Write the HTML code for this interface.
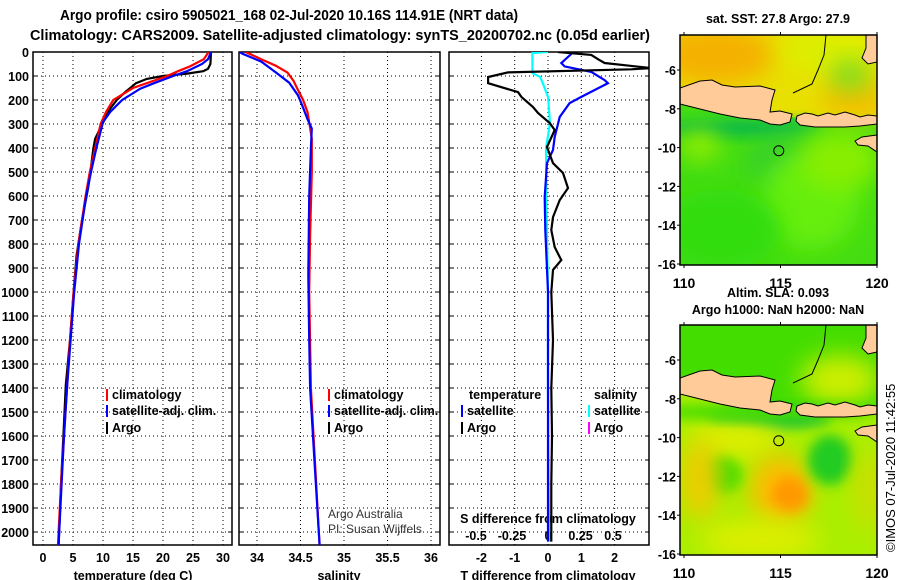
<!DOCTYPE html>
<html><head><meta charset="utf-8"><style>
body{margin:0;background:#fff;}
svg{display:block;font-family:"Liberation Sans",sans-serif;}
.b{font-weight:bold;font-size:14px;}
.h{font-weight:bold;font-size:14.5px;}
.t{font-weight:bold;font-size:12.5px;}
</style></head><body>
<svg id="s" width="900" height="580" viewBox="0 0 900 580">
<defs>
<clipPath id="c1"><rect x="33" y="52" width="199" height="493"/></clipPath>
<clipPath id="c2"><rect x="239" y="52" width="201" height="493"/></clipPath>
<clipPath id="c3"><rect x="449" y="52" width="200" height="493"/></clipPath>
<clipPath id="m1"><rect x="680" y="35" width="197" height="230"/></clipPath>
<clipPath id="m2"><rect x="680" y="325" width="197" height="230"/></clipPath>
<filter id="bl" x="-50%" y="-50%" width="200%" height="200%"><feGaussianBlur stdDeviation="12"/></filter>
<filter id="bl2" x="-50%" y="-50%" width="200%" height="200%"><feGaussianBlur stdDeviation="6"/></filter>
</defs>
<text x="289" y="20" text-anchor="middle" class="h" textLength="458" lengthAdjust="spacingAndGlyphs">Argo profile: csiro 5905021_168 02-Jul-2020 10.16S 114.91E (NRT data)</text>
<text x="340" y="40" text-anchor="middle" class="h" textLength="620" lengthAdjust="spacingAndGlyphs">Climatology: CARS2009. Satellite-adjusted climatology: synTS_20200702.nc (0.05d earlier)</text>
<g id="plots"></g>
<g id="maps"></g>
</svg>
<script>
// ---- data ----
const tArgoD=[0,50,70,80,90,100,112,130,167,200,236,300,361,400,500,569,700,847,1000,1200,1388,1600,1800,2000,2054];
const tArgoV=[28,27.9,27.5,26.7,24,20,17.3,15.5,13.7,12.3,11.2,9.9,8.7,8.4,7.9,7.5,6.5,5.6,5.1,4.5,3.8,3.4,3.0,2.7,2.6];
const tClimD=[0,30,60,80,100,150,200,250,300,400,500,600,800,1000,1200,1400,1600,1800,2000,2054];
const tClimV=[27.6,26.8,24.5,22.5,20.7,15,11.7,10.5,9.6,8.7,7.8,7.1,5.9,5.1,4.5,4.0,3.5,3.0,2.6,2.5];
const tSatD=[0,30,50,80,100,130,153,200,222,250,292,400,500,600,800,1000,1200,1400,1600,1800,2000,2054];
const tSatV=[28,27.5,26.5,24,21.7,18.5,16.2,13.2,12.3,11.2,10,8.9,8.0,7.2,6.0,5.2,4.6,4.0,3.5,3.1,2.7,2.6];
const sClimD=[0,30,58,86,120,150,200,250,292,361,500,764,1000,1400,1800,2000,2054];
const sClimV=[33.87,34.05,34.22,34.35,34.42,34.46,34.53,34.58,34.6,34.63,34.63,34.61,34.6,34.62,34.68,34.71,34.72];
const sSatD=[0,7,40,86,128,180,222,280,319,400,600,931,1200,1400,1700,2000,2054];
const sSatV=[33.8,33.83,34.05,34.22,34.37,34.47,34.52,34.58,34.63,34.62,34.6,34.59,34.6,34.61,34.66,34.71,34.72];
const dTArgoD=[0,12,30,46,67,72,85,104,130,167,187,229,254,296,325,396,463,504,567,617,688,742,813,867,908,1000,1200,1400,1600,1800,2000,2040];
const dTArgoV=[0.3,1.3,1.5,1.7,3.1,2.5,-1.2,-1.8,-1.8,-0.9,-0.8,-0.45,-0.3,0.05,0.2,-0.03,0.15,0.45,0.6,0.35,0.15,0.1,0.2,0.4,0.15,0.1,0.15,0.1,0.12,0.1,0.1,0.1];
const dTSatD=[0,8,46,60,83,117,130,187,213,271,354,408,463,604,742,1000,1400,1800,2040];
const dTSatV=[0.7,0.7,0.4,0.5,1.3,1.7,1.8,1.0,0.65,0.35,0.2,0.15,-0.03,-0.1,-0.08,0,0,0,0];
const dSSatD=[0,4,46,88,104,130,187,296,350,400,700,1000,1400,1800,2040];
const dSSatV=[0,-0.12,-0.12,-0.12,-0.06,-0.04,0,0.015,0,-0.015,-0.01,0,0,0.005,0.01];
const depthTicks=[0,100,200,300,400,500,600,700,800,900,1000,1100,1200,1300,1400,1500,1600,1700,1800,1900,2000];
const tTicks=[0,5,10,15,20,25,30];
const sTicks=[34,34.5,35,35.5,36];
const dTicks=[-2,-1,0,1,2];
const dsTicks=[-0.5,-0.25,0,0.25,0.5];
const dsTickLabels=["-0.5","-0.25","0","0.25","0.5"];
const latTicks=[-6,-8,-10,-12,-14,-16];
const lonTicks=[110,115,120];
// ---- scales ----
const yD=d=>52+0.24*d;
const xT=v=>43+6*v;
const xS=v=>257+87*(v-34);
const xD=v=>548+33.3*v;
const xSD=v=>548+130*v;
const NS="http://www.w3.org/2000/svg";
const P=document.getElementById('plots');
function mk(tag,at,par){const e=document.createElementNS(NS,tag);for(const k in at)e.setAttribute(k,at[k]);(par||P).appendChild(e);return e;}
function txt(x,y,s,at,par){const e=mk('text',Object.assign({x:x,y:y},at||{}),par);e.textContent=s;return e;}
const panels=[{x0:33,x1:232,clip:'c1',name:'temperature-panel'},{x0:239,x1:440,clip:'c2',name:'salinity-panel'},{x0:449,x1:649,clip:'c3',name:'difference-panel'}];
panels.forEach((p,i)=>{
  const g=mk('g',{});
  
  
  depthTicks.forEach(d=>{if(d===0)return;const y=yD(d);
    const l=mk('line',{x1:p.x0,x2:p.x1,y1:y,y2:y,stroke:'#000','stroke-width':1,'stroke-dasharray':'1,3'},g);
    
    mk('line',{x1:p.x0,x2:p.x0+4,y1:y,y2:y,stroke:'#000'},g);mk('line',{x1:p.x1-4,x2:p.x1,y1:y,y2:y,stroke:'#000'},g);});
  let vt=i===0?tTicks.map(xT):i===1?sTicks.map(xS):dTicks.map(xD);
  vt.forEach(x=>{const l=mk('line',{x1:x,x2:x,y1:52,y2:545,stroke:'#000','stroke-dasharray':'1,3'},g);
    });
  const r=mk('rect',{x:p.x0,y:52,width:p.x1-p.x0,height:493,fill:'none',stroke:'#000','stroke-width':1.5},g);
  
});
depthTicks.forEach(d=>{const t=txt(29,yD(d)+5,String(d),{'text-anchor':'end',class:'t'});
  });
function ticklab(arr,f){arr.forEach(v=>{const t=txt(f(v),562,String(v),{'text-anchor':'middle',class:'t'});
  });}
ticklab(tTicks,xT);ticklab(sTicks,xS);ticklab(dTicks,xD);
dsTicks.forEach((v,i)=>{const t=txt(xSD(v)-(v<0?7*Math.abs(v)/0.5:0),540,dsTickLabels[i],{'text-anchor':'middle',class:'t'});
  });
[[133,'temperature (deg C)','x-axis-title-temperature'],[339,'salinity','x-axis-title-salinity'],[548,'T difference from climatology','x-axis-title-t-diff']].forEach(a=>{
  const t=txt(a[0],580,a[1],{'text-anchor':'middle',class:'t'});});
const st=txt(548,523,'S difference from climatology',{'text-anchor':'middle',class:'t'});

function line(D,V,f,col,clip,name){const pts=D.map((d,i)=>f(V[i]).toFixed(1)+','+yD(d).toFixed(1)).join(' ');
  const e=mk('polyline',{points:pts,fill:'none',stroke:col,'stroke-width':2.2,'clip-path':'url(#'+clip+')'});
  }
line(tArgoD,tArgoV,xT,'#000','c1','argo-temperature-line');
line(tClimD,tClimV,xT,'#f00','c1','clim-temperature-line');
line(tSatD,tSatV,xT,'#00f','c1','sat-temperature-line');
line(sClimD,sClimV,xS,'#f00','c2','clim-salinity-line');
line(sSatD,sSatV,xS,'#00f','c2','sat-salinity-line');
line(dSSatD,dSSatV,xSD,'#0ff','c3','sat-salinity-diff-line');
line(dTSatD,dTSatV,xD,'#00f','c3','sat-temperature-diff-line');
line(dTArgoD,dTArgoV,xD,'#000','c3','argo-temperature-diff-line');
function leg(x,y,col,label,name){const r=mk('rect',{x:x,y:y-10,width:2,height:12,fill:col});
  const t=txt(x+6,y,label,{class:'t'});
  }
leg(106,399,'#f00','climatology','legend-climatology');
leg(106,415,'#00f','satellite-adj. clim.','legend-satellite-adj');
leg(106,432,'#000','Argo','legend-argo');
leg(328,399,'#f00','climatology','legend2-climatology');
leg(328,415,'#00f','satellite-adj. clim.','legend2-satellite-adj');
leg(328,432,'#000','Argo','legend2-argo');
let h=txt(469,399,'temperature',{class:'t'});
h=txt(594,399,'salinity',{class:'t'});
leg(461,415,'#00f','satellite','legend-t-satellite');
leg(461,432,'#000','Argo','legend-t-argo');
leg(588,415,'#0ff','satellite','legend-s-satellite');
leg(588,432,'#f0f','Argo','legend-s-argo');
h=txt(328,518,'Argo Australia',{'font-size':'12px',fill:'#333'});
h=txt(328,533,'PI: Susan Wijffels',{'font-size':'12px',fill:'#333'});

// ---- maps ----
const M=document.getElementById('maps');
const lonX=l=>684+19.3*(l-110);
function latY(top){return l=>top+19.4*(-6-l);}
const java=[[680,88],[700,81],[712,80],[722,85],[735,87],[760,86],[775,90],[772,100],[770,112],[780,111],[792,114],[790,122],[780,125],[770,124],[760,120],[740,118],[720,114],[700,109],[680,104]];
const lesser=[[797,116],[805,113],[812,114],[818,116],[828,113],[835,115],[845,112],[855,115],[860,117],[868,115],[877,116],[877,124],[860,126],[845,127],[830,127],[815,127],[800,125],[796,121]];
const sumba=[[855,141],[862,137],[877,135],[877,152],[868,146],[858,145]];
const borneo=[[866,35],[877,35],[877,62],[868,64],[862,58],[866,48]];
const northPoly=[[670,25],[890,25],[890,118],[800,118],[780,116],[760,112],[720,106],[680,98],[670,98]];
function map(top,clip,bg,north,blobs,name,title,titleY){
  const g=mk('g',{},M);
  const off=top-35;
  const inner=mk('g',{'clip-path':'url(#'+clip+')'},g);
  mk('rect',{x:680,y:top,width:197,height:230,fill:bg},inner);
  mk('polygon',{points:northPoly.map(p=>p[0]+','+(p[1]+off)).join(' '),fill:north},inner);
  blobs.forEach(b=>mk('ellipse',{cx:b[0],cy:b[1]+off,rx:b[2],ry:b[3],fill:b[4],filter:'url(#'+(b[5]||'bl')+')'},inner));
  [java,lesser,sumba,borneo].forEach(poly=>{const e=mk('polygon',{points:poly.map(p=>p[0]+','+(p[1]+off)).join(' '),fill:'#ffcc99',stroke:'#000','stroke-width':1},inner);
    });
  mk('polyline',{points:[[826,35],[824,55],[818,70],[812,84],[793,93]].map(p=>p[0]+','+(p[1]+off)).join(' '),fill:'none',stroke:'#000','stroke-width':1},inner);
  const c=mk('circle',{cx:lonX(114.91),cy:latY(top+35)(-10.16),r:5,fill:'none',stroke:'#000','stroke-width':1});
  g.appendChild(c);
  mk('rect',{x:680,y:top,width:197,height:230,fill:'none',stroke:'#000','stroke-width':1.5},g);
  const ly=latY(top+35);
  latTicks.forEach(l=>{const y=ly(l);mk('line',{x1:677,x2:680,y1:y,y2:y,stroke:'#000'},g);
    const t=txt(676,y+5,String(l),{'text-anchor':'end',class:'t'},g);});
  lonTicks.forEach(l=>{const x=lonX(l);mk('line',{x1:x,x2:x,y1:top+230,y2:top+233,stroke:'#000'},g);mk('line',{x1:x,x2:x,y1:top-3,y2:top,stroke:'#000'},g);
    const t=txt(x,top+253,String(l),{'text-anchor':'middle',class:'b'},g);});
  title.forEach((s,i)=>{const t=txt(778,titleY[i],s,{'text-anchor':'middle',class:'t'},g);});
}
map(35,'m1','#44dd11','#e8e000',[[715,55,60,30,'#f5b000'],[830,50,50,25,'#ddee00'],[855,100,35,20,'#f0c000'],[850,75,20,15,'#77dd22'],[740,128,80,9,'#11bb44','bl2'],[790,165,40,30,'#33cc33'],[810,200,50,50,'#66ee11'],[700,145,20,15,'#99ee00'],[720,230,60,40,'#33dd11'],[840,160,40,30,'#88ee00']],'sst-map',['sat. SST: 27.8 Argo: 27.9'],[23]);
map(325,'m2','#aaee00','#44dd00',[[840,90,40,25,'#ccee00'],[770,128,60,10,'#11bb44','bl2'],[735,150,45,20,'#ddee00'],[780,200,30,35,'#ffbb00'],[790,205,18,18,'#ff9900','bl2'],[722,185,20,18,'#44dd00','bl2'],[830,170,22,25,'#22cc22','bl2'],[700,190,20,40,'#eecc00'],[870,200,15,40,'#ccdd00'],[760,250,60,20,'#ddee00'],[760,122,120,8,'#44dd00','bl2']],'sla-map',['Altim. SLA: 0.093','Argo h1000: NaN h2000: NaN'],[297,314]);
const im=txt(0,0,'©IMOS 07-Jul-2020 11:42:55',{transform:'translate(895,552) rotate(-90)','font-size':'13px'},M);

</script>
</body></html>
